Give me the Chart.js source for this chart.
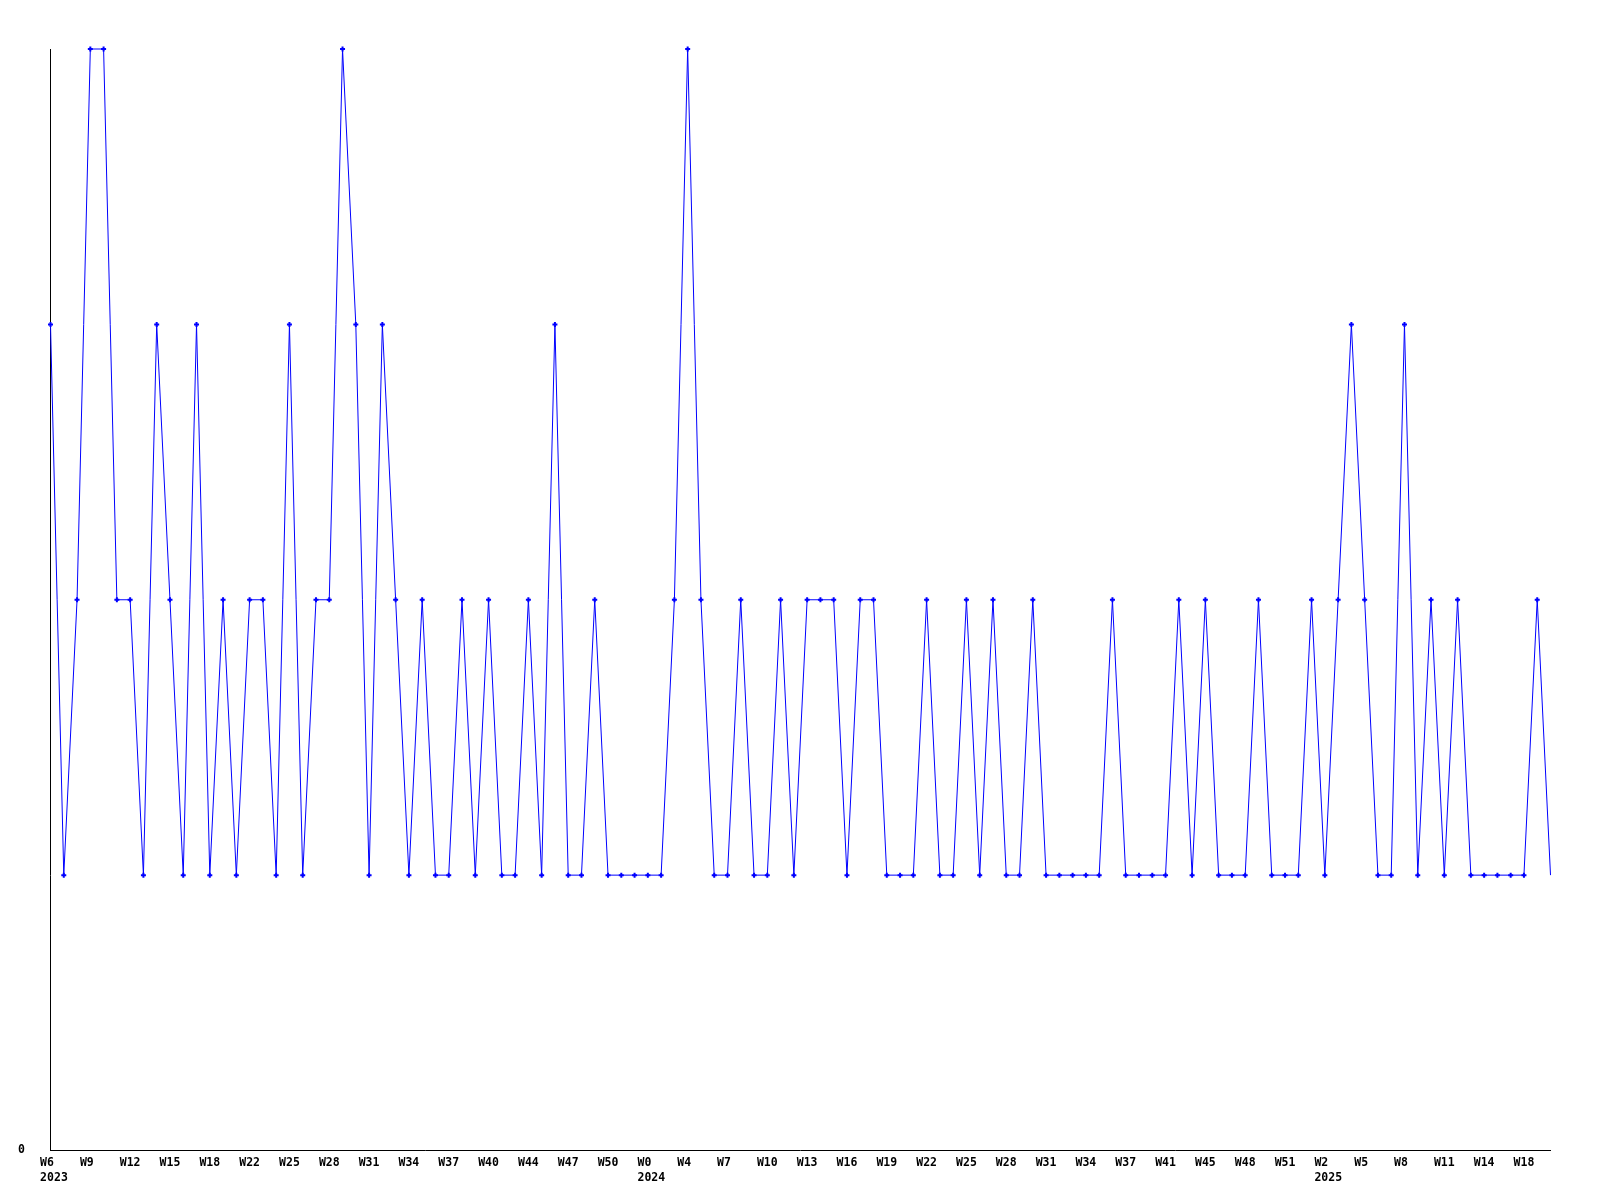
<!DOCTYPE html>
<html>
<head>
<meta charset="utf-8">
<script src="https://cdn.jsdelivr.net/npm/chart.js@4.4.1/dist/chart.umd.min.js"></script>
<style>
  body { margin: 0; background: #fff; }
  canvas { display: block; }
</style>
</head>
<body>
<canvas id="weeklyChart" width="1600" height="1200"></canvas>
<script>
'use strict'

// 週ごとの値 (2023 W6 〜 2025)
const weeklyValues = [
  3, 1, 2, 4, 4, 2, 2, 1, 3, 2,
  1, 3, 1, 2, 1, 2, 2, 1, 3, 1,
  2, 2, 4, 3, 1, 3, 2, 1, 2, 1,
  1, 2, 1, 2, 1, 1, 2, 1, 3, 1,
  1, 2, 1, 1, 1, 1, 1, 2, 4, 2,
  1, 1, 2, 1, 1, 2, 1, 2, 2, 2,
  1, 2, 2, 1, 1, 1, 2, 1, 1, 2,
  1, 2, 1, 1, 2, 1, 1, 1, 1, 1,
  2, 1, 1, 1, 1, 2, 1, 2, 1, 1,
  1, 2, 1, 1, 1, 2, 1, 2, 3, 2,
  1, 1, 3, 1, 2, 1, 2, 1, 1, 1,
  1, 1, 2, 1
];

// x軸ラベル (3週ごと)
const weekTicks = [
  'W6', 'W9', 'W12', 'W15', 'W18', 'W22', 'W25', 'W28', 'W31', 'W34',
  'W37', 'W40', 'W44', 'W47', 'W50', 'W0', 'W4', 'W7', 'W10', 'W13',
  'W16', 'W19', 'W22', 'W25', 'W28', 'W31', 'W34', 'W37', 'W41', 'W45',
  'W48', 'W51', 'W2', 'W5', 'W8', 'W11', 'W14', 'W18'
];
const yearTicks = {0: '2023', 15: '2024', 32: '2025'};
const tickEvery = 3;

const yMin = 0;
const yMax = 4;

// ラベル配列を作る
const labels = weeklyValues.map((v, i) => {
  if (i % tickEvery != 0) return '';
  const k = i / tickEvery;
  if (k >= weekTicks.length) return '';
  const w = weekTicks[k].padEnd(3, ' ');
  if (yearTicks[k]) {
    return [w, ' ' + yearTicks[k]];
  }
  return w;
});

const tickFont = {
  family: "'DejaVu Sans Mono', monospace",
  weight: 'bold',
  size: 11.5,
  lineHeight: 1.22,
};

const ctx = document.getElementById('weeklyChart');
const lastIndex = weeklyValues.length - 1;

const myChart = new Chart(ctx, {
  type: 'line',
  data: {
    labels: labels,
    datasets: [{
      data: weeklyValues,
      borderColor: '#0000ff',
      backgroundColor: '#0000ff',
      borderWidth: 1,
      tension: 0,
      fill: false,
      clip: false,
      pointStyle: 'cross',
      pointRadius: (c) => c.dataIndex === lastIndex ? 0 : 2.5,
      pointBorderWidth: 2,
      pointBorderColor: '#0000ff',
    }]
  },
  options: {
    responsive: false,
    animation: false,
    layout: {
      autoPadding: false,
      padding: {top: 49, right: 49.5, left: 0, bottom: 0},
    },
    scales: {
      x: {
        offset: false,
        grid: {
          display: false,
          drawTicks: false,
        },
        border: {
          display: true,
          color: '#000',
          width: 1,
        },
        ticks: {
          autoSkip: false,
          maxRotation: 0,
          minRotation: 0,
          color: '#000',
          padding: 6,
          font: tickFont,
        },
        afterFit: (scale) => { scale.height = 49.5; },
      },
      y: {
        min: yMin,
        max: yMax,
        grid: {
          display: false,
          drawTicks: false,
        },
        border: {
          display: true,
          color: '#000',
          width: 1,
        },
        ticks: {
          color: '#000',
          padding: 25.5,
          font: tickFont,
        },
        afterBuildTicks: (scale) => { scale.ticks = [{value: yMin}]; },
        afterFit: (scale) => { scale.width = 50.5; },
      }
    },
    plugins: {
      legend: {
        display: false,
      },
      tooltip: {
        enabled: false,
      },
    },
  }
});
</script>
</body>
</html>
